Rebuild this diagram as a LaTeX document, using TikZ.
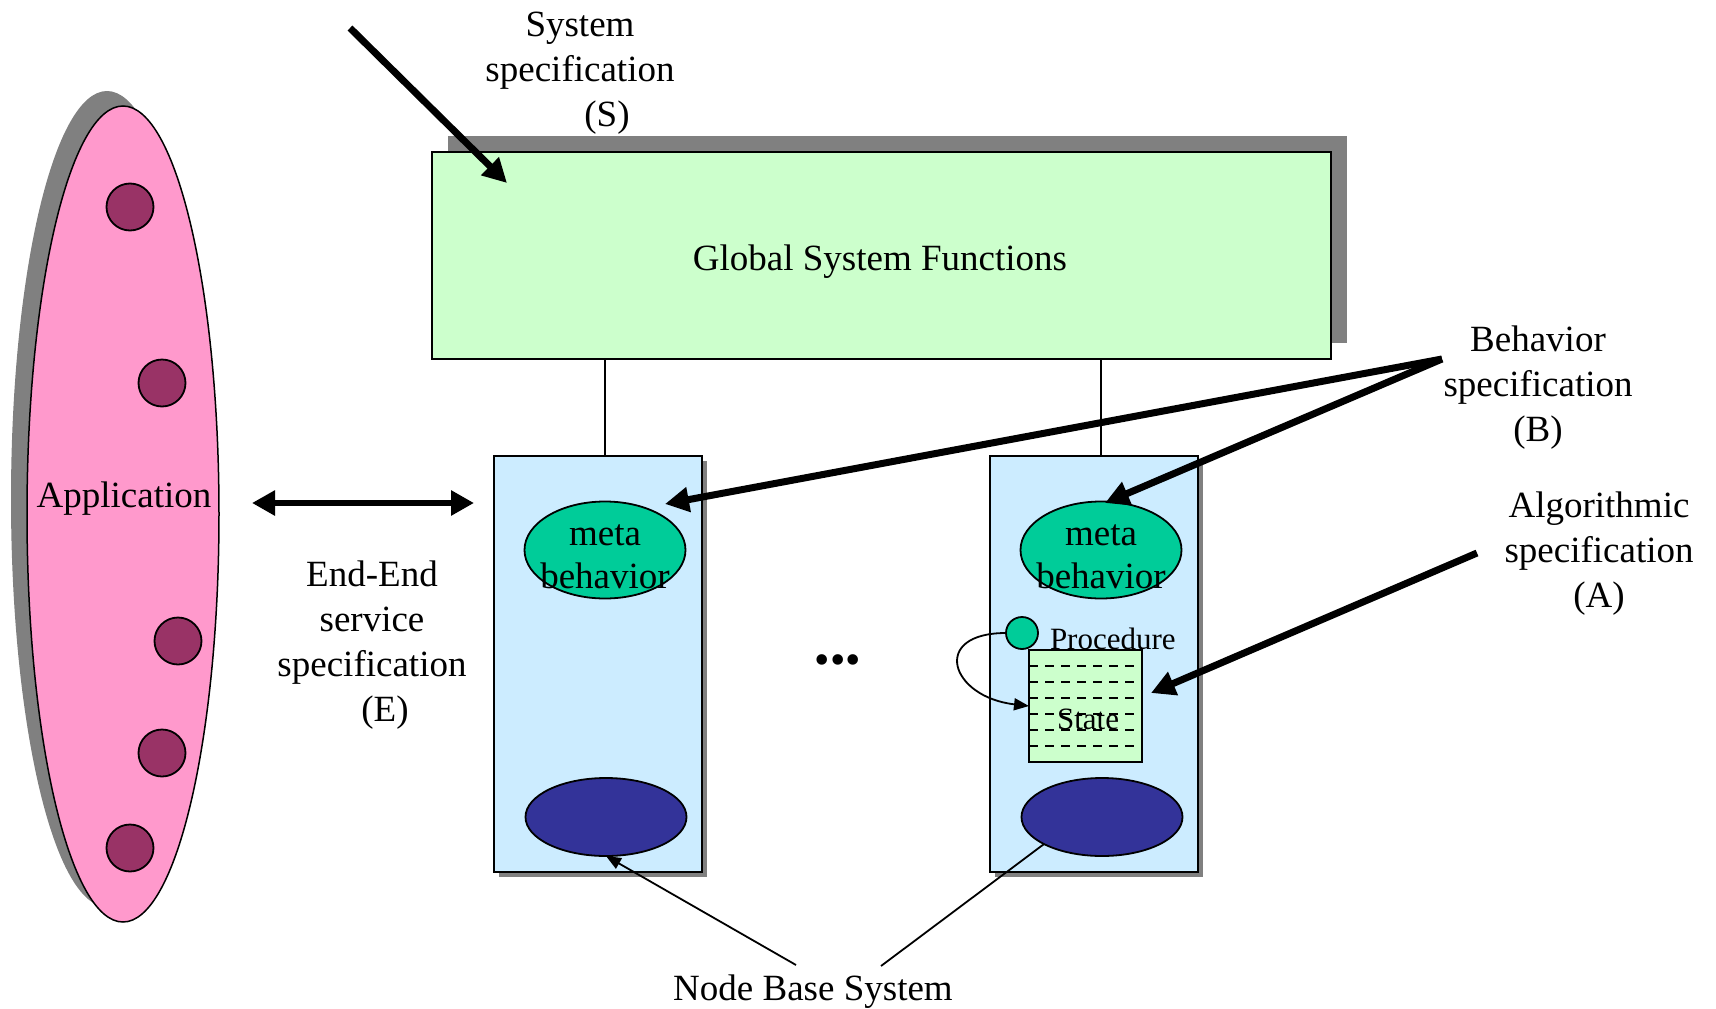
\documentclass[tikz,border=0pt]{standalone}
\usepackage{fontspec}
\setmainfont{Liberation Serif}
\usetikzlibrary{arrows.meta,shapes.geometric,calc}
\definecolor{gsfgreen}{HTML}{CCFFCC}
\definecolor{nodeblue}{HTML}{CCECFF}
\definecolor{metagreen}{HTML}{00CC99}
\definecolor{basenavy}{HTML}{333399}
\definecolor{apppink}{HTML}{FF99CC}
\definecolor{appdot}{HTML}{993366}
\definecolor{shadowgray}{HTML}{808080}
\begin{document}
\begin{tikzpicture}[x=1pt,y=-1pt,
  every node/.style={font=\fontsize{37}{45}\selectfont, inner sep=0pt, outer sep=0pt},
  gsfbox/.style={draw=black, line width=2pt, fill=gsfgreen},
  nodebox/.style={draw=black, line width=2pt, fill=nodeblue, minimum width=208pt, minimum height=416pt},
  metaoval/.style={ellipse, draw=black, line width=1.8pt, fill=metagreen, minimum width=161pt, minimum height=97pt},
  baseoval/.style={ellipse, draw=black, line width=1.8pt, fill=basenavy, minimum width=161pt, minimum height=78pt},
  appdotstyle/.style={circle, draw=black, line width=1.8pt, fill=appdot, minimum size=47pt},
  smallfont/.style={font=\fontsize{31}{37}\selectfont},
  label/.style={align=center},
  bigarrow/.style={line width=7pt, -{Triangle[length=24pt,width=24pt]}},
  thinline/.style={line width=1.8pt},
  thinarrow/.style={line width=1.8pt, -{Triangle[length=15pt,width=12pt]}},
]
\useasboundingbox (0,0) rectangle (1716,1009);

% ---------- application ellipse with its shadow ----------
\fill[shadowgray] (107,499) ellipse [x radius=96, y radius=408];
\node[ellipse, draw=black, line width=1.5pt, fill=apppink, minimum width=192pt, minimum height=816pt] (app) at (123,514) {};
\node (apptext) at (124,499) {Application};
\node[appdotstyle] (d1) at (130,207) {};
\node[appdotstyle] (d2) at (162,383) {};
\node[appdotstyle] (d3) at (178,641) {};
\node[appdotstyle] (d4) at (162,753) {};
\node[appdotstyle] (d5) at (130,848) {};

% ---------- global system functions ----------
\fill[shadowgray] (448,136) rectangle (1347,343);
\node[gsfbox, minimum width=899pt, minimum height=207pt] (gsf) at (881.5,255.5) {};
\node (gsftext) at (880,262) {Global System Functions};

% ---------- node base systems ----------
\fill[shadowgray] (499,461) rectangle (707,877);
\node[nodebox] (nodeL) at (598,664) {};
\fill[shadowgray] (995,461) rectangle (1203,877);
\node[nodebox] (nodeR) at (1094,664) {};

\node[metaoval] (metaL) at (605,550) {};
\node[label, font=\fontsize{37}{43}\selectfont] (metaLtext) at (605,557) {meta\\behavior};
\node[metaoval] (metaR) at (1101,550) {};
\node[label, font=\fontsize{37}{43}\selectfont] (metaRtext) at (1101,557) {meta\\behavior};

\node[baseoval] (baseL) at (606,817) {};
\node[baseoval] (baseR) at (1102,817) {};

% links from the global box down to each node
\draw[thinline] (gsf.south -| metaL) -- (nodeL.north -| metaL);
\draw[thinline] (gsf.south -| metaR) -- (nodeR.north -| metaR);

% procedure and state
\node[draw=black, line width=1.8pt, fill=gsfgreen, minimum width=113pt, minimum height=112pt] (state) at (1085.5,706) {};
\foreach \yy in {666,682,698,714,730,746}
  \draw[line width=1.8pt, dash pattern=on 9pt off 7pt] (state.west |- 0,\yy) -- (1135,\yy);
\node[smallfont] (statetext) at (1088,719) {State};
\node[circle, draw=black, line width=1.8pt, fill=metagreen, minimum size=32pt] (proc) at (1022,633) {};
\node[smallfont, anchor=west] (proctext) at (1050,639) {Procedure};
\draw[thinarrow] (proc.west) .. controls (930,633) and (950,697) .. (state.west);

% ellipsis between the nodes
\node[font=\fontsize{44}{50}\selectfont] (dots) at (838,665) {•••};

% ---------- labels ----------
\node[label] (sysspec) at (580,73) {System\\specification\\\hspace*{54pt}(S)};
\node[label] (e2e) at (372,645) {End-End\\service\\specification\\\hspace*{26pt}(E)};
\node[label] (behspec) at (1538,388) {Behavior\\specification\\(B)};
\node[label] (algspec) at (1599,554) {Algorithmic\\specification\\(A)};
\node (nbs) at (813,992) {Node Base System};

% ---------- arrows ----------
\coordinate (sysS) at (350,28);
\coordinate (sysE) at (507,183);
\draw[bigarrow] (sysS) -- (sysE);

\coordinate (e2eL) at (252,503);
\coordinate (e2eR) at (474,503);
\draw[line width=6pt, {Triangle[length=23pt,width=24pt]}-{Triangle[length=23pt,width=24pt]}] (e2eL) -- (e2eR);

\coordinate (behS) at (1442,359);
\coordinate (behL) at (665,504);
\coordinate (behR) at (1105,503);
\draw[bigarrow] (behS) -- (behL);
\draw[bigarrow] (behS) -- (behR);

\coordinate (algS) at (1477,553);
\coordinate (algE) at (1151,693);
\draw[bigarrow] (algS) -- (algE);

\coordinate (nbsL) at (796,965);
\coordinate (nbsR) at (881,966);
\draw[thinarrow] (nbsL) -- (baseL.south);
\draw[thinline] (nbsR) -- (baseR.205);
\end{tikzpicture}
\end{document}
